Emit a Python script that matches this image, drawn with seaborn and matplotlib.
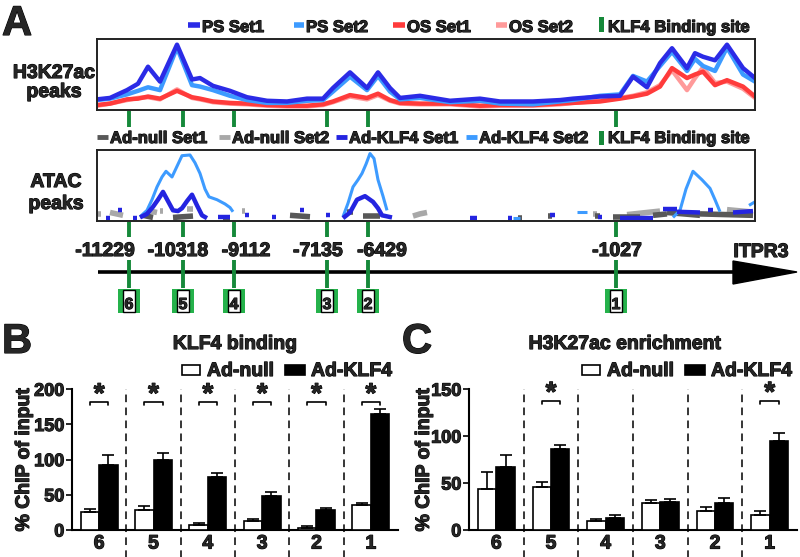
import matplotlib
matplotlib.use('Agg')
import matplotlib.pyplot as plt
import matplotlib.font_manager as fm
import matplotlib.patheffects as pe
from matplotlib.patches import Rectangle, Polygon
import numpy as np
import pandas as pd
import seaborn as sns

W, H = 800, 557

# ---------------- data ----------------
site_ids = ['6', '5', '4', '3', '2', '1']
site_labels = ['-11229', '-10318', '-9112', '-7135', '-6429', '-1027']
site_pos = [129, 183, 234, 327, 368, 616]      # track coordinate of each KLF4 site
gene_name = 'ITPR3'

# H3K27ac tracks (track coordinate, signal 0-100)
h3_pos = [97, 110, 127, 138, 148, 160, 177, 192, 200, 213, 230, 247, 267, 287, 307, 323, 333, 350, 367, 378,
          390, 400, 420, 450, 480, 500, 533, 560, 573, 600, 620, 633, 647, 660, 672, 687, 695, 703, 715, 727, 743, 755]
h3_ps1 = [15, 17, 28, 37, 61, 40, 92, 43, 45, 34, 27, 18, 13, 12, 16, 16, 31, 53, 31, 53,
          31, 17, 20, 13, 16, 12, 12, 14, 16, 19, 20, 47, 32, 66, 87, 59, 80, 75, 70, 92, 59, 45]
h3_ps2 = [14, 16, 22, 27, 32, 28, 88, 35, 33, 28, 20, 14, 10, 10, 13, 14, 26, 47, 28, 48,
          26, 15, 17, 11, 13, 9, 8, 12, 14, 20, 22, 48, 40, 62, 82, 55, 72, 62, 55, 88, 50, 40]
h3_os1 = [7, 9, 15, 16, 19, 16, 27, 18, 16, 12, 10, 9, 7, 6, 6, 8, 12, 21, 17, 23,
          14, 10, 9, 9, 6, 7, 7, 9, 10, 12, 16, 19, 23, 33, 59, 45, 50, 54, 35, 42, 33, 19]
h3_os2 = [6, 9, 14, 17, 18, 15, 29, 17, 15, 11, 9, 8, 6, 5, 5, 7, 11, 19, 15, 21,
          13, 9, 8, 8, 5, 6, 6, 8, 10, 13, 17, 20, 25, 35, 56, 28, 45, 60, 38, 40, 30, 17]

# ATAC tracks: segments of (track coordinate, signal 0-100)
atac_klf4_set2 = [
    [(140, 6), (147, 15), (152, 30), (157, 48), (162, 62), (166, 70), (172, 62), (178, 80), (182, 92), (190, 93),
     (195, 82), (200, 67), (205, 45), (209, 34), (217, 30), (225, 24), (230, 19), (233, 13)],
    [(343, 6), (348, 25), (353, 48), (358, 58), (362, 67), (366, 80), (370, 95), (374, 88), (378, 58), (383, 35), (387, 15)],
    [(673, 5), (680, 15), (686, 45), (693, 70), (702, 58), (710, 46), (715, 30), (720, 13)],
    [(577, 13), (587, 13)], [(513, 4), (520, 4)], [(749, 22), (755, 27)],
]
atac_klf4_set1 = [
    [(140, 5), (147, 10), (153, 20), (158, 30), (163, 41), (168, 28), (173, 15), (178, 14), (182, 18), (187, 28),
     (192, 37), (197, 22), (202, 8), (207, 4)],
    [(343, 4), (350, 12), (357, 30), (365, 35), (373, 27), (378, 18), (382, 8), (392, 5)],
    [(106, 4), (110, 4)], [(118, 15), (122, 15)], [(133, 4), (137, 4)], [(218, 5), (230, 5)], [(245, 8), (249, 8)],
    [(272, 5), (276, 5)], [(300, 15), (304, 15)], [(326, 8), (330, 8)], [(470, 4), (477, 4)], [(508, 4), (512, 4)],
    [(550, 8), (555, 8)], [(598, 5), (602, 5)], [(620, 4), (653, 4)], [(663, 17), (677, 17)], [(677, 13), (700, 12)],
    [(708, 16), (713, 16)], [(733, 12), (753, 14)],
]
atac_null_set1 = [
    [(143, 8), (153, 5)], [(173, 5), (193, 7)], [(223, 4), (230, 4)], [(290, 8), (310, 6)], [(347, 12), (353, 12)],
    [(363, 7), (380, 7)], [(518, 4), (522, 4)], [(548, 7), (552, 7)], [(595, 7), (600, 7)], [(613, 6), (640, 6)],
    [(653, 8), (667, 10)], [(667, 12), (700, 8)], [(700, 10), (753, 8)],
]
atac_null_set2 = [
    [(98, 10), (101, 10)], [(110, 12), (123, 8)], [(147, 15), (157, 12)], [(160, 14), (163, 14)], [(187, 17), (193, 17)],
    [(242, 14), (245, 14)], [(413, 7), (420, 10), (427, 12)], [(593, 10), (597, 10)], [(627, 9), (660, 14)],
    [(727, 16), (750, 13)],
]

# ChIP-qPCR (% ChIP of input)
groups = ['Ad-null', 'Ad-KLF4']
nullB = [25, 28.5, 7, 13, 3.5, 36]
nullB_err = [5.5, 5.5, 2.5, 3, 2, 3]
klfB = [93, 99, 76, 48, 28, 165]
klfB_err = [13.5, 10, 5.5, 5.5, 3.5, 7.5]
sigB = [1, 1, 1, 1, 1, 1]

nullC = [43.5, 46, 10, 29, 20.5, 16.5]
nullC_err = [18.5, 5.5, 1.5, 3.5, 4.5, 3.5]
klfC = [67.5, 86, 13, 30, 28.5, 95]
klfC_err = [12, 5, 3.5, 3.5, 5.5, 8.5]
sigC = [0, 1, 0, 0, 0, 1]

# ---------------- styles ----------------
c_ps1, c_ps2, c_os1, c_os2 = '#2b2be6', '#3d9bff', '#ff3b3b', '#ff9a9a'
c_n1, c_n2, c_k1, c_k2 = '#585858', '#a8a8a8', '#2424e0', '#3d9bff'
green = '#16893a'
green_box = '#25b24b'
HEAVY = [pe.withStroke(linewidth=0.8, foreground='black')]

sns.set_style('white')


def _w(w):
    if isinstance(w, str):
        return fm.weight_dict.get(w, 400)
    return w


def pick_bold_family():
    for fam in ['Liberation Sans', 'Arimo', 'Roboto', 'Open Sans', 'Lato', 'Inter', 'Noto Sans', 'DejaVu Sans']:
        for f in fm.fontManager.ttflist:
            if f.name == fam and _w(f.weight) >= 650 and f.style == 'normal':
                return fam
    return 'DejaVu Sans'


fam = pick_bold_family()
plt.rcParams['font.family'] = [fam, 'DejaVu Sans']
plt.rcParams['font.weight'] = 'bold'
plt.rcParams['axes.labelweight'] = 'bold'

fig = plt.figure(figsize=(W / 100, H / 100), dpi=100)


def px_rect(x0, y0, x1, y1):
    return [x0 / W, 1 - y1 / H, (x1 - x0) / W, (y1 - y0) / H]


deco = fig.add_axes([0, 0, 1, 1])
deco.set_xlim(0, W)
deco.set_ylim(H, 0)
deco.axis('off')


def T(ax, x, y, s, size, **kw):
    kw.setdefault('va', 'baseline')
    t = ax.text(x, y, s, fontsize=size, fontweight='bold', **kw)
    t.set_path_effects(HEAVY)
    return t


def segs_df(segs):
    rows = [(p, v, k) for k, seg in enumerate(segs) for p, v in seg]
    return pd.DataFrame(rows, columns=['pos', 'val', 'seg'])


def draw_track(ax, df, color, lw, cap='round'):
    sns.lineplot(data=df, x='pos', y='val', units='seg', estimator=None, sort=False,
                 color=color, lw=lw, ax=ax, legend=False, solid_capstyle=cap)


def track_axes(y0, y1):
    ax = fig.add_axes(px_rect(97, y0, 755, y1))
    for s in ax.spines.values():
        s.set_linewidth(1.4)
        s.set_color('#222222')
        s.set_zorder(10)
    return ax


def finish_track(ax):
    ax.set_xlim(97, 755)
    ax.set_ylim(0, 100)
    ax.set_xticks([])
    ax.set_yticks([])
    ax.set_xlabel('')
    ax.set_ylabel('')


# ---- H3K27ac track ----
ax_h3 = track_axes(39, 110)
for vals, col in [(h3_os2, c_os2), (h3_os1, c_os1), (h3_ps2, c_ps2), (h3_ps1, c_ps1)]:
    df = pd.DataFrame({'pos': h3_pos, 'val': vals, 'seg': 0})
    draw_track(ax_h3, df, col, 3.2)
finish_track(ax_h3)

# ---- ATAC track ----
ax_at = track_axes(150, 221)
draw_track(ax_at, segs_df(atac_null_set2), c_n2, 4.0, 'butt')
draw_track(ax_at, segs_df(atac_null_set1), c_n1, 4.0, 'butt')
draw_track(ax_at, segs_df(atac_klf4_set2), c_k2, 2.2, 'butt')
draw_track(ax_at, segs_df(atac_klf4_set1), c_k1, 3.2, 'butt')
finish_track(ax_at)

# ---- panel A decorations ----
T(deco, 2, 35, 'A', 30, ha='left')
for txt, y in [('H3K27ac', 78), ('peaks', 97)]:
    T(deco, 54, y, txt, 14, ha='center')
for txt, y in [('ATAC', 187), ('peaks', 209)]:
    T(deco, 56, y, txt, 14, ha='center')

top_legend = [('PS Set1', c_ps1), ('PS Set2', c_ps2), ('OS Set1', c_os1), ('OS Set2', c_os2)]
top_dash = [(188, 200), (294, 304), (393, 405), (496, 507)]
for (lab, col), (xa, xb) in zip(top_legend, top_dash):
    deco.plot([xa, xb], [25, 25], color=col, lw=4, solid_capstyle='butt')
    T(deco, xb + 2, 32, lab, 12, ha='left')
atac_legend = [('Ad-null Set1', c_n1), ('Ad-null Set2', c_n2), ('Ad-KLF4 Set1', c_k1), ('Ad-KLF4 Set2', c_k2)]
atac_dash = [(97, 108), (219, 230), (336, 347), (466, 477)]
for (lab, col), (xa, xb) in zip(atac_legend, atac_dash):
    deco.plot([xa, xb], [137, 137], color=col, lw=3.5, solid_capstyle='butt')
    T(deco, xb + 2, 143, lab, 12, ha='left')
for yb, ybase in [((17, 32), 32), ((131, 145), 143)]:
    deco.add_patch(Rectangle((599, yb[0]), 5, yb[1] - yb[0], color=green, lw=0))
    T(deco, 608, ybase, 'KLF4 Binding site', 12, ha='left')

# genome axis arrow
deco.plot([98, 736], [272, 272], color='black', lw=2.6, solid_capstyle='butt')
deco.add_patch(Polygon([(733, 261), (797, 272), (733, 284)], closed=True, color='black'))
T(deco, 761, 257, gene_name, 14, ha='center')

label_dx = [-24, -5, 12, -9, 14, 1]
for p, lab, sid, dx in zip(site_pos, site_labels, site_ids, label_dx):
    for ya, yb in [(111, 127), (222, 237), (260, 288)]:
        deco.plot([p, p], [ya, yb], color=green, lw=2.8, solid_capstyle='butt')
    T(deco, p + dx, 256, lab, 14, ha='center')
    deco.add_patch(Rectangle((p - 11, 289), 22, 24, color=green_box, lw=0))
    deco.add_patch(Rectangle((p - 6, 290), 12, 22, fc='white', ec='black', lw=1.0))
    T(deco, p, 309, sid, 11.5, ha='center')


# ---------------- bar panels ----------------
def bar_panel(x0, x1, null, null_err, klf, klf_err, sig, ymax, yticks, br_level, br_tip,
              title, letter, dxo, lab_x):
    ax = fig.add_axes(px_rect(x0, 389.3, x1, 530))
    ax.patch.set_alpha(0)
    df = pd.DataFrame({'site': site_ids * 2,
                       'group': [groups[0]] * len(site_ids) + [groups[1]] * len(site_ids),
                       'value': list(null) + list(klf)})
    sns.barplot(data=df, x='site', y='value', hue='group', order=site_ids, hue_order=groups,
                palette={groups[0]: 'white', groups[1]: 'black'}, edgecolor='black', linewidth=1.2,
                width=0.675, errorbar=None, legend=False, saturation=1, ax=ax, zorder=3)
    errs = {0: null_err, 1: klf_err}
    for patch in list(ax.patches):
        cx = patch.get_x() + patch.get_width() / 2
        i = int(round(cx))
        g = 0 if cx < i else 1
        top = patch.get_height()
        ax.errorbar([cx], [top], yerr=[[0], [errs[g][i]]], fmt='none', ecolor='black',
                    elinewidth=1.2, capsize=4, capthick=1.2, zorder=4, clip_on=False)
    ax.set_xlim(-0.5, len(site_ids) - 0.5)
    ax.set_ylim(0, ymax)
    ax.set_yticks(yticks)
    trans = ax.get_xaxis_transform()
    for k in range(len(site_ids) - 1):
        ax.plot([k + 0.5, k + 0.5], [-0.2, 1.0], transform=trans, color='black', lw=1.1,
                ls=(0, (5, 3.5)), clip_on=False, zorder=2)
    for i, s in enumerate(sig):
        if s:
            xa, xb = i - 0.675 / 4, i + 0.675 / 4
            ax.plot([xa, xa, xb, xb], [br_level - br_tip, br_level, br_level, br_level - br_tip],
                    color='black', lw=1.2, clip_on=False)
            T(ax, i, br_level, '*', 20, ha='center', clip_on=False)
    sns.despine(ax=ax)
    for s in ['left', 'bottom']:
        ax.spines[s].set_linewidth(1.5)
        ax.spines[s].set_color('black')
    ax.tick_params(axis='y', length=4, width=1.4, pad=1.5, labelsize=13, direction='out', left=True)
    ax.tick_params(axis='x', length=0, pad=4, labelsize=14)
    for lbl in ax.get_xticklabels() + ax.get_yticklabels():
        lbl.set_fontweight('bold')
        lbl.set_path_effects(HEAVY)
    ax.set_xlabel('')
    ax.set_ylabel('% ChIP of input', fontsize=14, fontweight='bold')
    ax.yaxis.label.set_path_effects(HEAVY)
    ax.yaxis.set_label_coords(lab_x, 0.5)
    # title, legend, letter
    T(deco, dxo + 2, 353, letter, 30, ha='left')
    T(deco, title[1], 349, title[0], 14, ha='center')
    deco.add_patch(Rectangle((dxo + 182, 365), 18, 10, fc='white', ec='black', lw=1.2))
    T(deco, dxo + 207, 376, groups[0], 14, ha='left')
    deco.add_patch(Rectangle((dxo + 285, 365), 20, 10, fc='black', ec='black', lw=1.2))
    T(deco, dxo + 311, 376, groups[1], 14, ha='left')
    return ax


bar_panel(72, 398, nullB, nullB_err, klfB, klfB_err, sigB, 200, [0, 50, 100, 150, 200], 181.5, 4,
          ('KLF4 binding', 235), 'B', 0, -0.12)
bar_panel(469, 797, nullC, nullC_err, klfC, klfC_err, sigC, 150, [0, 50, 100, 150], 137.6, 3,
          ('H3K27ac enrichment', 625), 'C', 400, -0.11)

fig.savefig('out.png', dpi=100)
